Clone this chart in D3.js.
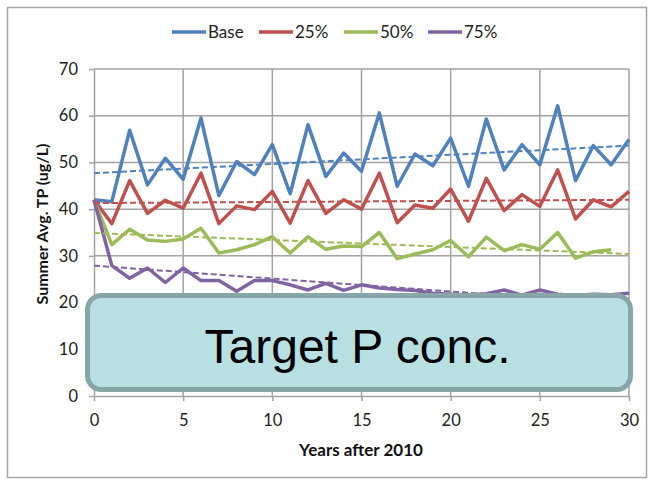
<!DOCTYPE html>
<html>
<head>
<meta charset="utf-8">
<script src="https://cdn.jsdelivr.net/npm/d3@7"></script>
<style>
  html, body { margin: 0; padding: 0; background: #fff; }
  svg { display: block; }
</style>
</head>
<body>
<svg id="chart" width="653" height="482"></svg>
<script>
// Summer average total phosphorus under four load-reduction scenarios
const years = d3.range(0, 31);
const seriesNames = ["Base", "25%", "50%", "75%"];
const seriesColors = ["#4f81bd", "#c0504d", "#9bbb59", "#8064a2"];

const baseTP = [42.0, 41.6, 56.9, 45.2, 50.9, 46.4, 59.5, 42.9, 50.2, 47.4, 53.8,
                43.3, 58.1, 47.0, 52.0, 48.1, 60.6, 44.9, 51.8, 49.3, 55.2,
                44.9, 59.3, 48.4, 53.8, 49.5, 62.1, 46.1, 53.6, 49.5, 54.9];
const cut25TP = [42.0, 36.9, 46.1, 39.1, 41.9, 40.2, 47.7, 36.9, 40.7, 39.9, 43.8,
                 37.0, 46.1, 39.1, 42.0, 40.0, 47.7, 37.1, 40.9, 40.2, 44.3,
                 37.4, 46.6, 39.7, 43.1, 40.6, 48.4, 37.9, 42.0, 40.5, 43.8];
const cut50TP = [42.0, 32.4, 35.7, 33.4, 33.1, 33.6, 35.9, 30.6, 31.3, 32.4, 34.1,
                 30.6, 34.1, 31.4, 32.1, 32.0, 35.0, 29.4, 30.4, 31.3, 33.3,
                 29.8, 34.0, 31.1, 32.4, 31.4, 35.0, 29.5, 30.9, 31.3];
const cut75TP = [42.0, 27.9, 25.2, 27.4, 24.3, 27.4, 24.7, 24.7, 22.4, 24.7, 24.7,
                 23.8, 22.7, 24.1, 22.6, 23.8, 23.1, 22.8, 22.6, 22.0, 21.8,
                 21.6, 21.9, 22.7, 21.6, 22.7, 21.8, 21.5, 21.8, 21.7, 22.0];

// Linear trend lines: value at year 0 and year 30
const trendStart = [47.7, 41.3, 34.9, 27.9];
const trendEnd = [53.6, 42.0, 30.4, 19.6];

const xTicks = [0, 5, 10, 15, 20, 25, 30];
const yTicks = [0, 10, 20, 30, 40, 50, 60, 70];

const xTitle = "Years after 2010";
const yTitle = "Summer Avg. TP (ug/L)";
const boxLabel = "Target P conc.";

const allSeries = [baseTP, cut25TP, cut50TP, cut75TP];

const svg = d3.select("#chart");
const font = "Lato, 'Open Sans', sans-serif";

// outer chart frame
svg.append("rect")
  .attr("x", 7.5).attr("y", 7.5).attr("width", 639).attr("height", 470)
  .attr("fill", "#fff").attr("stroke", "#a6a6a6").attr("stroke-width", 1.5);

const x = d3.scaleLinear().domain([0, 30]).range([94, 629]);
const y = d3.scaleLinear().domain([0, 70]).range([396, 69]);
const gridColor = "#a3a3a3";

// gridlines
const grid = svg.append("g");
grid.selectAll("line.h").data(yTicks.filter(d => d > 0)).join("line")
  .attr("x1", x(0)).attr("x2", x(30))
  .attr("y1", d => y(d)).attr("y2", d => y(d))
  .attr("stroke", gridColor).attr("stroke-width", 1.5);
grid.selectAll("line.v").data(xTicks.filter(d => d > 0)).join("line")
  .attr("x1", d => x(d)).attr("x2", d => x(d))
  .attr("y1", y(0)).attr("y2", y(70))
  .attr("stroke", gridColor).attr("stroke-width", 1.5);

// axes
const xAxis = svg.append("g").attr("transform", `translate(0,${y(0)})`)
  .call(d3.axisBottom(x).tickValues(xTicks).tickSizeInner(5).tickSizeOuter(0).tickPadding(13));
const yAxis = svg.append("g").attr("transform", `translate(${x(0)},0)`)
  .call(d3.axisLeft(y).tickValues(yTicks).tickSizeInner(5).tickSizeOuter(0).tickPadding(11));
[xAxis, yAxis].forEach(g => {
  g.select(".domain").attr("stroke", gridColor).attr("stroke-width", 1.5);
  g.selectAll(".tick line").attr("stroke", gridColor).attr("stroke-width", 1.5);
  g.selectAll(".tick text").attr("fill", "#222").style("font-family", font).style("font-size", "16.5px");
});

// series lines
const line = d3.line().x((d, i) => x(years[i])).y(d => y(d));
allSeries.forEach((vals, k) => {
  svg.append("path").datum(vals)
    .attr("d", line)
    .attr("fill", "none")
    .attr("stroke", seriesColors[k])
    .attr("stroke-width", 3.5)
    .attr("stroke-linejoin", "round");
});

// trend lines
allSeries.forEach((vals, k) => {
  svg.append("line")
    .attr("x1", x(0)).attr("x2", x(30))
    .attr("y1", y(trendStart[k])).attr("y2", y(trendEnd[k]))
    .attr("stroke", seriesColors[k])
    .attr("stroke-width", 2)
    .attr("stroke-dasharray", "6,3");
});

// legend
const legend = svg.append("g");
const legendX = [172, 259, 344, 428];
seriesNames.forEach((name, k) => {
  legend.append("line")
    .attr("x1", legendX[k]).attr("x2", legendX[k] + 34)
    .attr("y1", 32).attr("y2", 32)
    .attr("stroke", seriesColors[k]).attr("stroke-width", 3.5);
  legend.append("text")
    .attr("x", legendX[k] + 36).attr("y", 32)
    .attr("dy", "0.35em")
    .attr("fill", "#222")
    .style("font-family", font).style("font-size", "17px")
    .text(name);
});

// axis titles
svg.append("text")
  .attr("x", 361).attr("y", 450).attr("dy", "0.35em")
  .attr("text-anchor", "middle").attr("fill", "#111")
  .style("font-family", font).style("font-size", "17px").style("font-weight", "bold")
  .text(xTitle);
svg.append("text")
  .attr("transform", "translate(42,224) rotate(-90)")
  .attr("dy", "0.35em")
  .attr("text-anchor", "middle").attr("fill", "#111")
  .style("font-family", font).style("font-size", "16px").style("font-weight", "bold")
  .text(yTitle);

// target concentration callout
svg.append("rect")
  .attr("x", 87.5).attr("y", 295.5).attr("width", 543).attr("height", 94)
  .attr("rx", 14).attr("ry", 14)
  .attr("fill", "#b8e0e3").attr("stroke", "#87a6a8").attr("stroke-width", 5);
svg.append("text")
  .attr("x", 357.5).attr("y", 362.5)
  .attr("text-anchor", "middle").attr("fill", "#000")
  .style("font-family", "'Liberation Sans', Arial, sans-serif").style("font-size", "48px")
  .text(boxLabel);
</script>
</body>
</html>
